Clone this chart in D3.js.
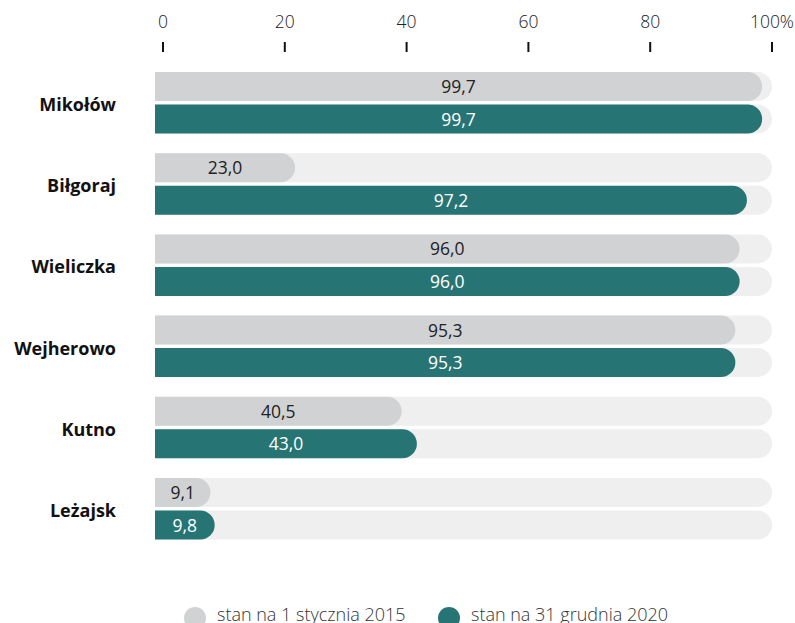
<!DOCTYPE html>
<html>
<head>
<meta charset="utf-8">
<script src="https://cdn.jsdelivr.net/npm/d3@7"></script>
<style>
  body { margin: 0; background: #fff; }
  text { font-family: "Open Sans", "Noto Sans", sans-serif; }
</style>
</head>
<body>
<div id="chart"></div>
<script>
var cities = ["Mikołów", "Biłgoraj", "Wieliczka", "Wejherowo", "Kutno", "Leżajsk"]
var val2015 = [99.7, 23.0, 96.0, 95.3, 40.5, 9.1]
var val2020 = [99.7, 97.2, 96.0, 95.3, 43.0, 9.8]
var ticks = [0, 20, 40, 60, 80, 100]
var seriesNames = ["stan na 1 stycznia 2015", "stan na 31 grudnia 2020"]

var width = 795, height = 623
var colors = ["#d1d2d4", "#267574"]
var trackColor = "#efefef"
var barH = 29, gap = 3.5

var svg = d3.select("#chart").append("svg")
    .attr("width", width)
    .attr("height", height)

var x = d3.scaleLinear().domain([0, 100]).range([163, 772])
var y = d3.scaleBand().domain(cities).range([72, 72 + 81.2 * 6]).paddingInner(0).paddingOuter(0)

var left = x(0) - 8

// bar with square left end and round right end
function pill(x0, y0, w, h) {
    var r = h / 2
    if (w < r) w = r
    return "M" + x0 + "," + y0 +
        "H" + (x0 + w - r) +
        "A" + r + "," + r + " 0 0 1 " + (x0 + w - r) + "," + (y0 + h) +
        "H" + x0 + "Z"
}

// axis
var ax = svg.append("g")
ticks.forEach(function(t) {
    ax.append("text")
        .attr("x", t == 100 ? 794 : x(t))
        .attr("y", 28)
        .attr("text-anchor", t == 100 ? "end" : "middle")
        .attr("font-size", 17.5)
        .attr("font-weight", 300)
        .attr("fill", "#222")
        .text(t == 100 ? "100%" : t)
    ax.append("line")
        .attr("x1", x(t)).attr("x2", x(t))
        .attr("y1", 42).attr("y2", 52)
        .attr("stroke", "#111")
        .attr("stroke-width", 2)
})

var groups = svg.selectAll("g.city")
    .data(cities)
    .enter().append("g")
    .attr("class", "city")
    .attr("transform", function(d) { return "translate(0," + y(d) + ")" })

groups.append("text")
    .attr("x", 116)
    .attr("y", 39)
    .attr("text-anchor", "end")
    .attr("font-size", 18)
    .attr("font-weight", "bold")
    .attr("fill", "#111")
    .text(function(d) { return d })

groups.each(function(c, i) {
    var g = d3.select(this)
    var vals = [val2015[i], val2020[i]]
    vals.forEach(function(v, k) {
        var y0 = k * (barH + gap)
        g.append("path")
            .attr("d", pill(left, y0, x(100) - left, barH))
            .attr("fill", trackColor)
        var w = x(v) - x(0)
        g.append("path")
            .attr("d", pill(left, y0, w, barH))
            .attr("fill", colors[k])
        g.append("text")
            .attr("x", left + w / 2)
            .attr("y", y0 + barH / 2 + 6.5)
            .attr("text-anchor", "middle")
            .attr("font-size", 17.5)
            .attr("fill", k == 0 ? "#222" : "#fff")
            .text(d3.format(".1f")(v).replace(".", ","))
    })
})

// legend
var legX = [195, 449]
seriesNames.forEach(function(s, k) {
    svg.append("circle")
        .attr("cx", legX[k]).attr("cy", 618).attr("r", 11)
        .attr("fill", colors[k])
    svg.append("text")
        .attr("x", legX[k] + 22)
        .attr("y", 621)
        .attr("font-size", 18)
        .attr("font-weight", 300)
        .attr("fill", "#333")
        .text(s)
})
</script>
</body>
</html>
